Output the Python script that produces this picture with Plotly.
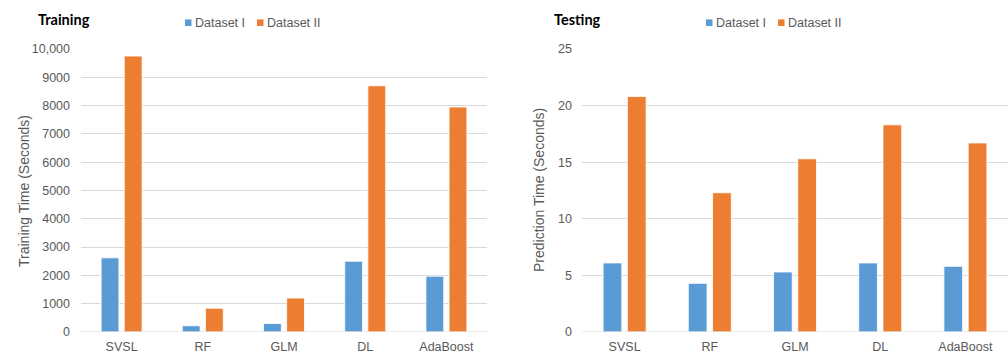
import plotly.graph_objects as go

categories = ["SVSL", "RF", "GLM", "DL", "AdaBoost"]
series_names = ["Dataset I", "Dataset II"]
train_ds1 = [2620, 220, 300, 2500, 1970]
train_ds2 = [9750, 840, 1200, 8700, 7950]
test_ds1 = [6.1, 4.3, 5.3, 6.1, 5.8]
test_ds2 = [20.8, 12.3, 15.3, 18.3, 16.7]
train_ticks = [0, 1000, 2000, 3000, 4000, 5000, 6000, 7000, 8000, 9000, 10000]
train_ticktext = ["0", "1000", "2000", "3000", "4000", "5000", "6000", "7000", "8000", "9000", "10,000"]
test_ticks = [0, 5, 10, 15, 20, 25]

BLUE = "#5B9BD5"
ORANGE = "#ED7D31"
TXT = "#595959"
GRID = "#D9D9D9"
FONT = "Liberation Sans, Arial, sans-serif"

W, H = 1008, 354
T, B = 49, 22
PH = H - T - B

def px(x):
    return x / W

def py(y):
    return (H - B - y) / PH

fig = go.Figure()
line = dict(color="rgba(255,255,255,0.8)", width=1)
fig.add_trace(go.Bar(x=categories, y=train_ds1, name=series_names[0], marker=dict(color=BLUE, line=line),
                     xaxis="x", yaxis="y", showlegend=False))
fig.add_trace(go.Bar(x=categories, y=train_ds2, name=series_names[1], marker=dict(color=ORANGE, line=line),
                     xaxis="x", yaxis="y", showlegend=False))
fig.add_trace(go.Bar(x=categories, y=test_ds1, name=series_names[0], marker=dict(color=BLUE, line=line),
                     xaxis="x2", yaxis="y2", showlegend=False))
fig.add_trace(go.Bar(x=categories, y=test_ds2, name=series_names[1], marker=dict(color=ORANGE, line=line),
                     xaxis="x2", yaxis="y2", showlegend=False))

axis_common = dict(showline=False, zeroline=False, ticks="", tickfont=dict(family=FONT, size=12.5, color=TXT))

shapes = [
    dict(type="line", xref="x domain", yref="y", x0=0, x1=1, y0=0, y1=0, line=dict(color=GRID, width=1)),
    dict(type="line", xref="x2 domain", yref="y2", x0=0, x1=1, y0=0, y1=0, line=dict(color=GRID, width=1)),
]
annotations = [
    dict(text="<b>Training</b>", xref="paper", yref="paper", x=px(36), y=py(20), xanchor="left",
         yanchor="middle", showarrow=False, font=dict(family="Lato, sans-serif", size=14.5, color="black")),
    dict(text="<b>Testing</b>", xref="paper", yref="paper", x=px(552), y=py(20), xanchor="left",
         yanchor="middle", showarrow=False, font=dict(family="Lato, sans-serif", size=14.5, color="black")),
    dict(text="Training Time (Seconds)", xref="paper", yref="paper", x=px(24), y=py(191), textangle=-90,
         xanchor="center", yanchor="middle", showarrow=False, font=dict(family=FONT, size=14, color=TXT)),
    dict(text="Prediction Time (Seconds)", xref="paper", yref="paper", x=px(539), y=py(190), textangle=-90,
         xanchor="center", yanchor="middle", showarrow=False, font=dict(family=FONT, size=14, color=TXT)),
]

# custom compact legends (square swatch + label) for each panel
legend_y = 22.7
for starts in ([185, 257], [706, 778]):
    for sx, name, col in zip(starts, series_names, [BLUE, ORANGE]):
        shapes.append(dict(type="rect", xref="paper", yref="paper", x0=px(sx), x1=px(sx + 6.5),
                           y0=py(legend_y + 3.3), y1=py(legend_y - 3.3), fillcolor=col, line=dict(width=0)))
        annotations.append(dict(text=name, xref="paper", yref="paper", x=px(sx + 8), y=py(legend_y),
                                xanchor="left", yanchor="middle", showarrow=False,
                                font=dict(family=FONT, size=12.5, color=TXT)))

fig.update_layout(
    width=W, height=H,
    margin=dict(l=0, r=0, t=T, b=B),
    plot_bgcolor="white", paper_bgcolor="white",
    barmode="group", bargap=0.43, bargroupgap=0.23,
    xaxis=dict(domain=[px(81), px(487)], anchor="y", showgrid=False, ticklabelstandoff=5, **axis_common),
    yaxis=dict(domain=[0, 1], anchor="x", range=[0, 10000], tickvals=train_ticks, ticktext=train_ticktext,
               showgrid=True, gridcolor=GRID, gridwidth=1, ticklabelstandoff=10, **axis_common),
    xaxis2=dict(domain=[px(582), 1.0], anchor="y2", showgrid=False, ticklabelstandoff=5, **axis_common),
    yaxis2=dict(domain=[0, 1], anchor="x2", range=[0, 25], tickvals=test_ticks,
                showgrid=True, gridcolor=GRID, gridwidth=1, ticklabelstandoff=9, **axis_common),
    shapes=shapes,
    annotations=annotations,
)

fig.write_html("out.html", config={"displayModeBar": False},
               post_script="document.body.style.margin='0';document.body.style.overflow='hidden';")
